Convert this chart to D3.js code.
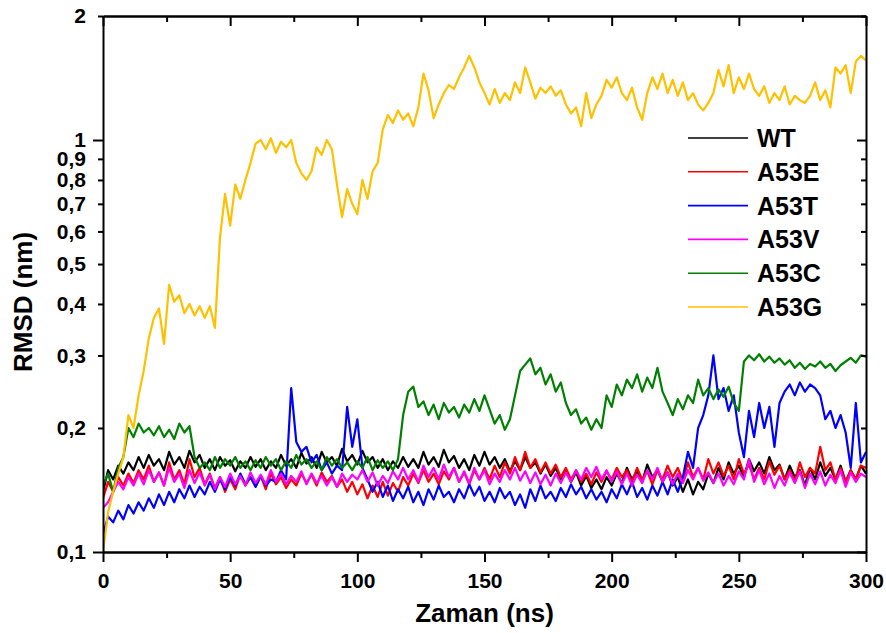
<!DOCTYPE html>
<html>
<head>
<meta charset="utf-8">
<script src="https://cdn.jsdelivr.net/npm/d3@7"></script>
<style>
  body { margin: 0; background: #fff; }
  svg { font-family: "Liberation Sans", Arial, sans-serif; font-weight: bold; }
  .axis path, .axis line { stroke: #000; stroke-width: 2; }
  .axis text { font-size: 21px; font-weight: bold; fill: #000; }
</style>
</head>
<body>
<div id="chart"></div>
<script>
// time in ns, one sample every 2 ns (0..300)
var time = d3.range(0, 301, 2)

var seriesNames = ["WT", "A53E", "A53T", "A53V", "A53C", "A53G"]
var seriesColors = ["#000000", "#ff0000", "#0000ff", "#ff00ff", "#008000", "#ffc000"]

var yTickValues = [0.1, 0.2, 0.3, 0.4, 0.5, 0.6, 0.7, 0.8, 0.9, 1, 2]
var xMajorTicks = [0, 50, 100, 150, 200, 250, 300]
var xMinorTicks = [25, 75, 125, 175, 225, 275]

// RMSD (nm)
var wt = [
  0.140,0.158,0.150,0.162,0.155,0.165,0.158,0.170,0.160,0.172,
  0.162,0.168,0.158,0.175,0.163,0.170,0.160,0.176,0.165,0.172,
  0.160,0.168,0.158,0.170,0.162,0.167,0.157,0.166,0.160,0.170,
  0.161,0.168,0.158,0.166,0.160,0.172,0.162,0.168,0.160,0.174,
  0.164,0.170,0.160,0.175,0.165,0.170,0.162,0.178,0.166,0.172,
  0.163,0.176,0.165,0.170,0.160,0.168,0.158,0.166,0.160,0.170,
  0.161,0.168,0.160,0.175,0.163,0.170,0.161,0.177,0.165,0.171,
  0.160,0.168,0.158,0.172,0.162,0.175,0.163,0.170,0.160,0.168,
  0.157,0.166,0.158,0.170,0.160,0.165,0.155,0.163,0.153,0.160,
  0.150,0.158,0.148,0.156,0.145,0.153,0.143,0.150,0.142,0.152,
  0.145,0.155,0.147,0.160,0.150,0.157,0.148,0.163,0.152,0.158,
  0.148,0.156,0.145,0.152,0.140,0.150,0.138,0.148,0.142,0.155,
  0.147,0.160,0.150,0.165,0.155,0.162,0.152,0.168,0.157,0.165,
  0.155,0.170,0.158,0.163,0.150,0.162,0.152,0.158,0.145,0.160,
  0.150,0.165,0.153,0.160,0.150,0.162,0.148,0.158,0.150,0.162,
  0.155]

var a53e = [
  0.135,0.148,0.140,0.152,0.145,0.155,0.147,0.158,0.150,0.162,
  0.148,0.156,0.145,0.165,0.150,0.158,0.146,0.168,0.152,0.160,
  0.146,0.155,0.143,0.152,0.140,0.150,0.142,0.154,0.145,0.152,
  0.144,0.153,0.142,0.155,0.146,0.152,0.143,0.150,0.145,0.155,
  0.147,0.154,0.145,0.156,0.148,0.153,0.144,0.150,0.140,0.148,
  0.138,0.146,0.135,0.145,0.136,0.148,0.137,0.147,0.140,0.152,
  0.145,0.155,0.147,0.158,0.148,0.155,0.146,0.157,0.150,0.160,
  0.148,0.156,0.146,0.158,0.150,0.160,0.150,0.162,0.152,0.165,
  0.155,0.170,0.158,0.175,0.160,0.168,0.156,0.165,0.155,0.163,
  0.152,0.160,0.150,0.158,0.148,0.155,0.146,0.156,0.148,0.157,
  0.150,0.160,0.152,0.158,0.148,0.160,0.150,0.157,0.146,0.158,
  0.150,0.162,0.152,0.160,0.149,0.165,0.152,0.160,0.150,0.168,
  0.155,0.165,0.153,0.162,0.150,0.168,0.155,0.163,0.150,0.160,
  0.150,0.166,0.154,0.162,0.150,0.158,0.148,0.165,0.152,0.160,
  0.155,0.180,0.158,0.165,0.150,0.160,0.148,0.158,0.150,0.162,
  0.160]

var a53t = [
  0.110,0.122,0.118,0.126,0.120,0.130,0.124,0.132,0.126,0.135,
  0.128,0.138,0.130,0.140,0.132,0.142,0.135,0.145,0.136,0.144,
  0.138,0.148,0.140,0.150,0.142,0.152,0.145,0.155,0.146,0.152,
  0.144,0.153,0.145,0.150,0.148,0.158,0.150,0.250,0.185,0.175,
  0.180,0.165,0.172,0.158,0.165,0.155,0.162,0.158,0.225,0.180,
  0.210,0.160,0.150,0.140,0.148,0.136,0.145,0.133,0.142,0.135,
  0.144,0.132,0.140,0.130,0.142,0.134,0.145,0.136,0.140,0.132,
  0.142,0.135,0.146,0.137,0.144,0.133,0.140,0.132,0.143,0.135,
  0.140,0.130,0.138,0.128,0.142,0.133,0.145,0.135,0.140,0.133,
  0.143,0.136,0.146,0.138,0.144,0.135,0.142,0.134,0.140,0.132,
  0.142,0.135,0.146,0.138,0.148,0.136,0.143,0.134,0.145,0.137,
  0.148,0.138,0.150,0.140,0.152,0.175,0.160,0.200,0.215,0.240,
  0.300,0.235,0.250,0.220,0.240,0.195,0.170,0.220,0.190,0.230,
  0.200,0.225,0.180,0.230,0.245,0.255,0.240,0.258,0.245,0.255,
  0.250,0.240,0.210,0.220,0.200,0.215,0.195,0.160,0.230,0.165,
  0.175]

var a53v = [
  0.128,0.132,0.140,0.148,0.142,0.152,0.145,0.155,0.146,0.158,
  0.148,0.156,0.145,0.160,0.148,0.155,0.143,0.158,0.147,0.156,
  0.145,0.154,0.142,0.152,0.144,0.155,0.146,0.153,0.145,0.156,
  0.147,0.154,0.146,0.158,0.148,0.155,0.146,0.153,0.148,0.157,
  0.146,0.155,0.147,0.153,0.145,0.152,0.144,0.155,0.148,0.154,
  0.150,0.158,0.148,0.156,0.145,0.153,0.147,0.157,0.150,0.160,
  0.150,0.158,0.148,0.162,0.152,0.160,0.150,0.163,0.152,0.160,
  0.148,0.157,0.147,0.160,0.150,0.158,0.146,0.155,0.148,0.158,
  0.150,0.160,0.149,0.157,0.147,0.156,0.146,0.154,0.145,0.155,
  0.147,0.156,0.148,0.158,0.150,0.160,0.152,0.161,0.150,0.158,
  0.148,0.157,0.146,0.155,0.145,0.154,0.147,0.158,0.150,0.160,
  0.148,0.156,0.146,0.155,0.147,0.158,0.150,0.160,0.149,0.156,
  0.147,0.155,0.145,0.153,0.146,0.157,0.150,0.168,0.148,0.158,
  0.146,0.155,0.143,0.153,0.145,0.156,0.147,0.157,0.143,0.155,
  0.146,0.157,0.145,0.154,0.147,0.158,0.144,0.156,0.148,0.155,
  0.152]

var a53c = [
  0.145,0.155,0.140,0.160,0.170,0.200,0.190,0.205,0.195,0.200,
  0.192,0.202,0.190,0.198,0.188,0.205,0.195,0.202,0.170,0.160,
  0.165,0.158,0.170,0.160,0.168,0.162,0.170,0.160,0.166,0.158,
  0.167,0.160,0.170,0.162,0.168,0.158,0.166,0.160,0.172,0.163,
  0.168,0.160,0.166,0.158,0.170,0.162,0.168,0.160,0.165,0.158,
  0.166,0.160,0.170,0.158,0.167,0.160,0.166,0.158,0.168,0.215,
  0.245,0.252,0.225,0.232,0.215,0.228,0.210,0.230,0.218,0.225,
  0.212,0.228,0.218,0.235,0.220,0.240,0.222,0.205,0.215,0.198,
  0.210,0.240,0.275,0.285,0.295,0.270,0.280,0.255,0.270,0.245,
  0.258,0.230,0.215,0.222,0.205,0.212,0.198,0.210,0.200,0.240,
  0.225,0.255,0.240,0.262,0.250,0.270,0.245,0.265,0.250,0.280,
  0.245,0.230,0.215,0.235,0.222,0.240,0.230,0.262,0.240,0.250,
  0.235,0.248,0.238,0.252,0.230,0.220,0.290,0.300,0.292,0.302,
  0.290,0.298,0.288,0.295,0.285,0.292,0.280,0.288,0.278,0.286,
  0.282,0.290,0.280,0.286,0.275,0.284,0.290,0.296,0.288,0.300,
  0.298]

var a53g = [
  0.100,0.125,0.140,0.155,0.170,0.215,0.200,0.240,0.275,0.330,
  0.370,0.390,0.320,0.445,0.405,0.420,0.380,0.400,0.375,0.395,
  0.370,0.395,0.350,0.580,0.740,0.620,0.780,0.720,0.800,0.880,
  0.980,1.000,0.950,1.010,0.930,0.990,0.960,1.000,0.880,0.830,
  0.800,0.840,0.960,0.920,1.000,0.950,0.780,0.650,0.760,0.700,
  0.660,0.800,0.720,0.840,0.880,1.060,1.150,1.100,1.180,1.120,
  1.160,1.080,1.200,1.450,1.320,1.130,1.220,1.300,1.360,1.330,
  1.420,1.500,1.600,1.500,1.380,1.300,1.220,1.330,1.230,1.300,
  1.250,1.380,1.300,1.500,1.380,1.260,1.340,1.300,1.350,1.280,
  1.320,1.220,1.160,1.200,1.080,1.300,1.130,1.220,1.280,1.400,
  1.340,1.420,1.300,1.250,1.340,1.200,1.120,1.300,1.420,1.330,
  1.450,1.300,1.400,1.280,1.380,1.250,1.300,1.220,1.180,1.230,
  1.300,1.480,1.350,1.520,1.300,1.420,1.330,1.450,1.330,1.280,
  1.350,1.230,1.300,1.250,1.350,1.220,1.280,1.250,1.230,1.280,
  1.380,1.250,1.320,1.200,1.500,1.450,1.520,1.300,1.550,1.600,
  1.560]

var seriesValues = [wt, a53e, a53t, a53v, a53c, a53g]

function commaFormat(d){
  return String(d).replace(".", ",")
}

function render(divselect){
  var width = 886, height = 633
  var left = 103, right = 866, top = 16, bottom = 552

  var svg = d3.select(divselect).append("svg")
    .attr("width", width)
    .attr("height", height)

  var x = d3.scaleLinear().domain([0, 300]).range([left, right])
  var y = d3.scaleLog().domain([0.1, 2]).range([bottom, top])

  svg.append("clipPath").attr("id", "plot-clip")
    .append("rect")
    .attr("x", left).attr("y", top)
    .attr("width", right - left).attr("height", bottom - top)

  var line = d3.line()
    .x(function(d){ return x(d[0]) })
    .y(function(d){ return y(d[1]) })

  var lines = svg.append("g").attr("clip-path", "url(#plot-clip)")
  seriesValues.forEach(function(vals, i){
    var pts = vals.map(function(v, j){ return [time[j], v] })
    lines.append("path")
      .datum(pts)
      .attr("fill", "none")
      .attr("stroke", seriesColors[i])
      .attr("stroke-width", 2.2)
      .attr("stroke-linejoin", "round")
      .attr("d", line)
  })

  // bottom axis
  svg.append("g").attr("class", "axis")
    .attr("transform", "translate(0," + bottom + ")")
    .call(d3.axisBottom(x).tickValues(xMajorTicks).tickSize(10).tickSizeOuter(0).tickPadding(11))
  svg.append("g").attr("class", "axis")
    .attr("transform", "translate(0," + bottom + ")")
    .call(d3.axisBottom(x).tickValues(xMinorTicks).tickSize(6).tickSizeOuter(0).tickFormat(""))

  // top axis, inward ticks
  svg.append("g").attr("class", "axis")
    .attr("transform", "translate(0," + top + ")")
    .call(d3.axisTop(x).tickValues(xMajorTicks).tickSize(-10).tickSizeOuter(0).tickFormat(""))
  svg.append("g").attr("class", "axis")
    .attr("transform", "translate(0," + top + ")")
    .call(d3.axisTop(x).tickValues(xMinorTicks).tickSize(-6).tickSizeOuter(0).tickFormat(""))

  // left axis
  var gy = svg.append("g").attr("class", "axis")
    .attr("transform", "translate(" + left + ",0)")
    .call(d3.axisLeft(y).tickValues(yTickValues).tickSize(5).tickSizeOuter(0)
      .tickPadding(12).tickFormat(commaFormat))
  gy.selectAll(".tick line").filter(function(d){ return d == 0.1 || d == 1 }).attr("x2", -10)

  // right axis, inward ticks
  var gr = svg.append("g").attr("class", "axis")
    .attr("transform", "translate(" + right + ",0)")
    .call(d3.axisRight(y).tickValues(yTickValues).tickSize(-5).tickSizeOuter(0).tickFormat(""))
  gr.selectAll(".tick line").filter(function(d){ return d == 0.1 || d == 1 }).attr("x2", -9)

  svg.append("text")
    .attr("x", (left + right) / 2)
    .attr("y", 622)
    .attr("text-anchor", "middle")
    .style("font-size", "26px")
    .text("Zaman (ns)")

  svg.append("text")
    .attr("transform", "translate(32,302) rotate(-90)")
    .attr("text-anchor", "middle")
    .style("font-size", "26px")
    .text("RMSD (nm)")

  var legend = svg.append("g").attr("transform", "translate(688,138)")
  seriesNames.forEach(function(name, i){
    var row = legend.append("g").attr("transform", "translate(0," + (i * 33.8) + ")")
    row.append("line")
      .attr("x1", 0).attr("x2", 60)
      .attr("stroke", seriesColors[i])
      .attr("stroke-width", 1.6)
    row.append("text")
      .attr("x", 69).attr("y", 9)
      .style("font-size", "25px")
      .text(name)
  })
}

render("#chart")
</script>
</body>
</html>
